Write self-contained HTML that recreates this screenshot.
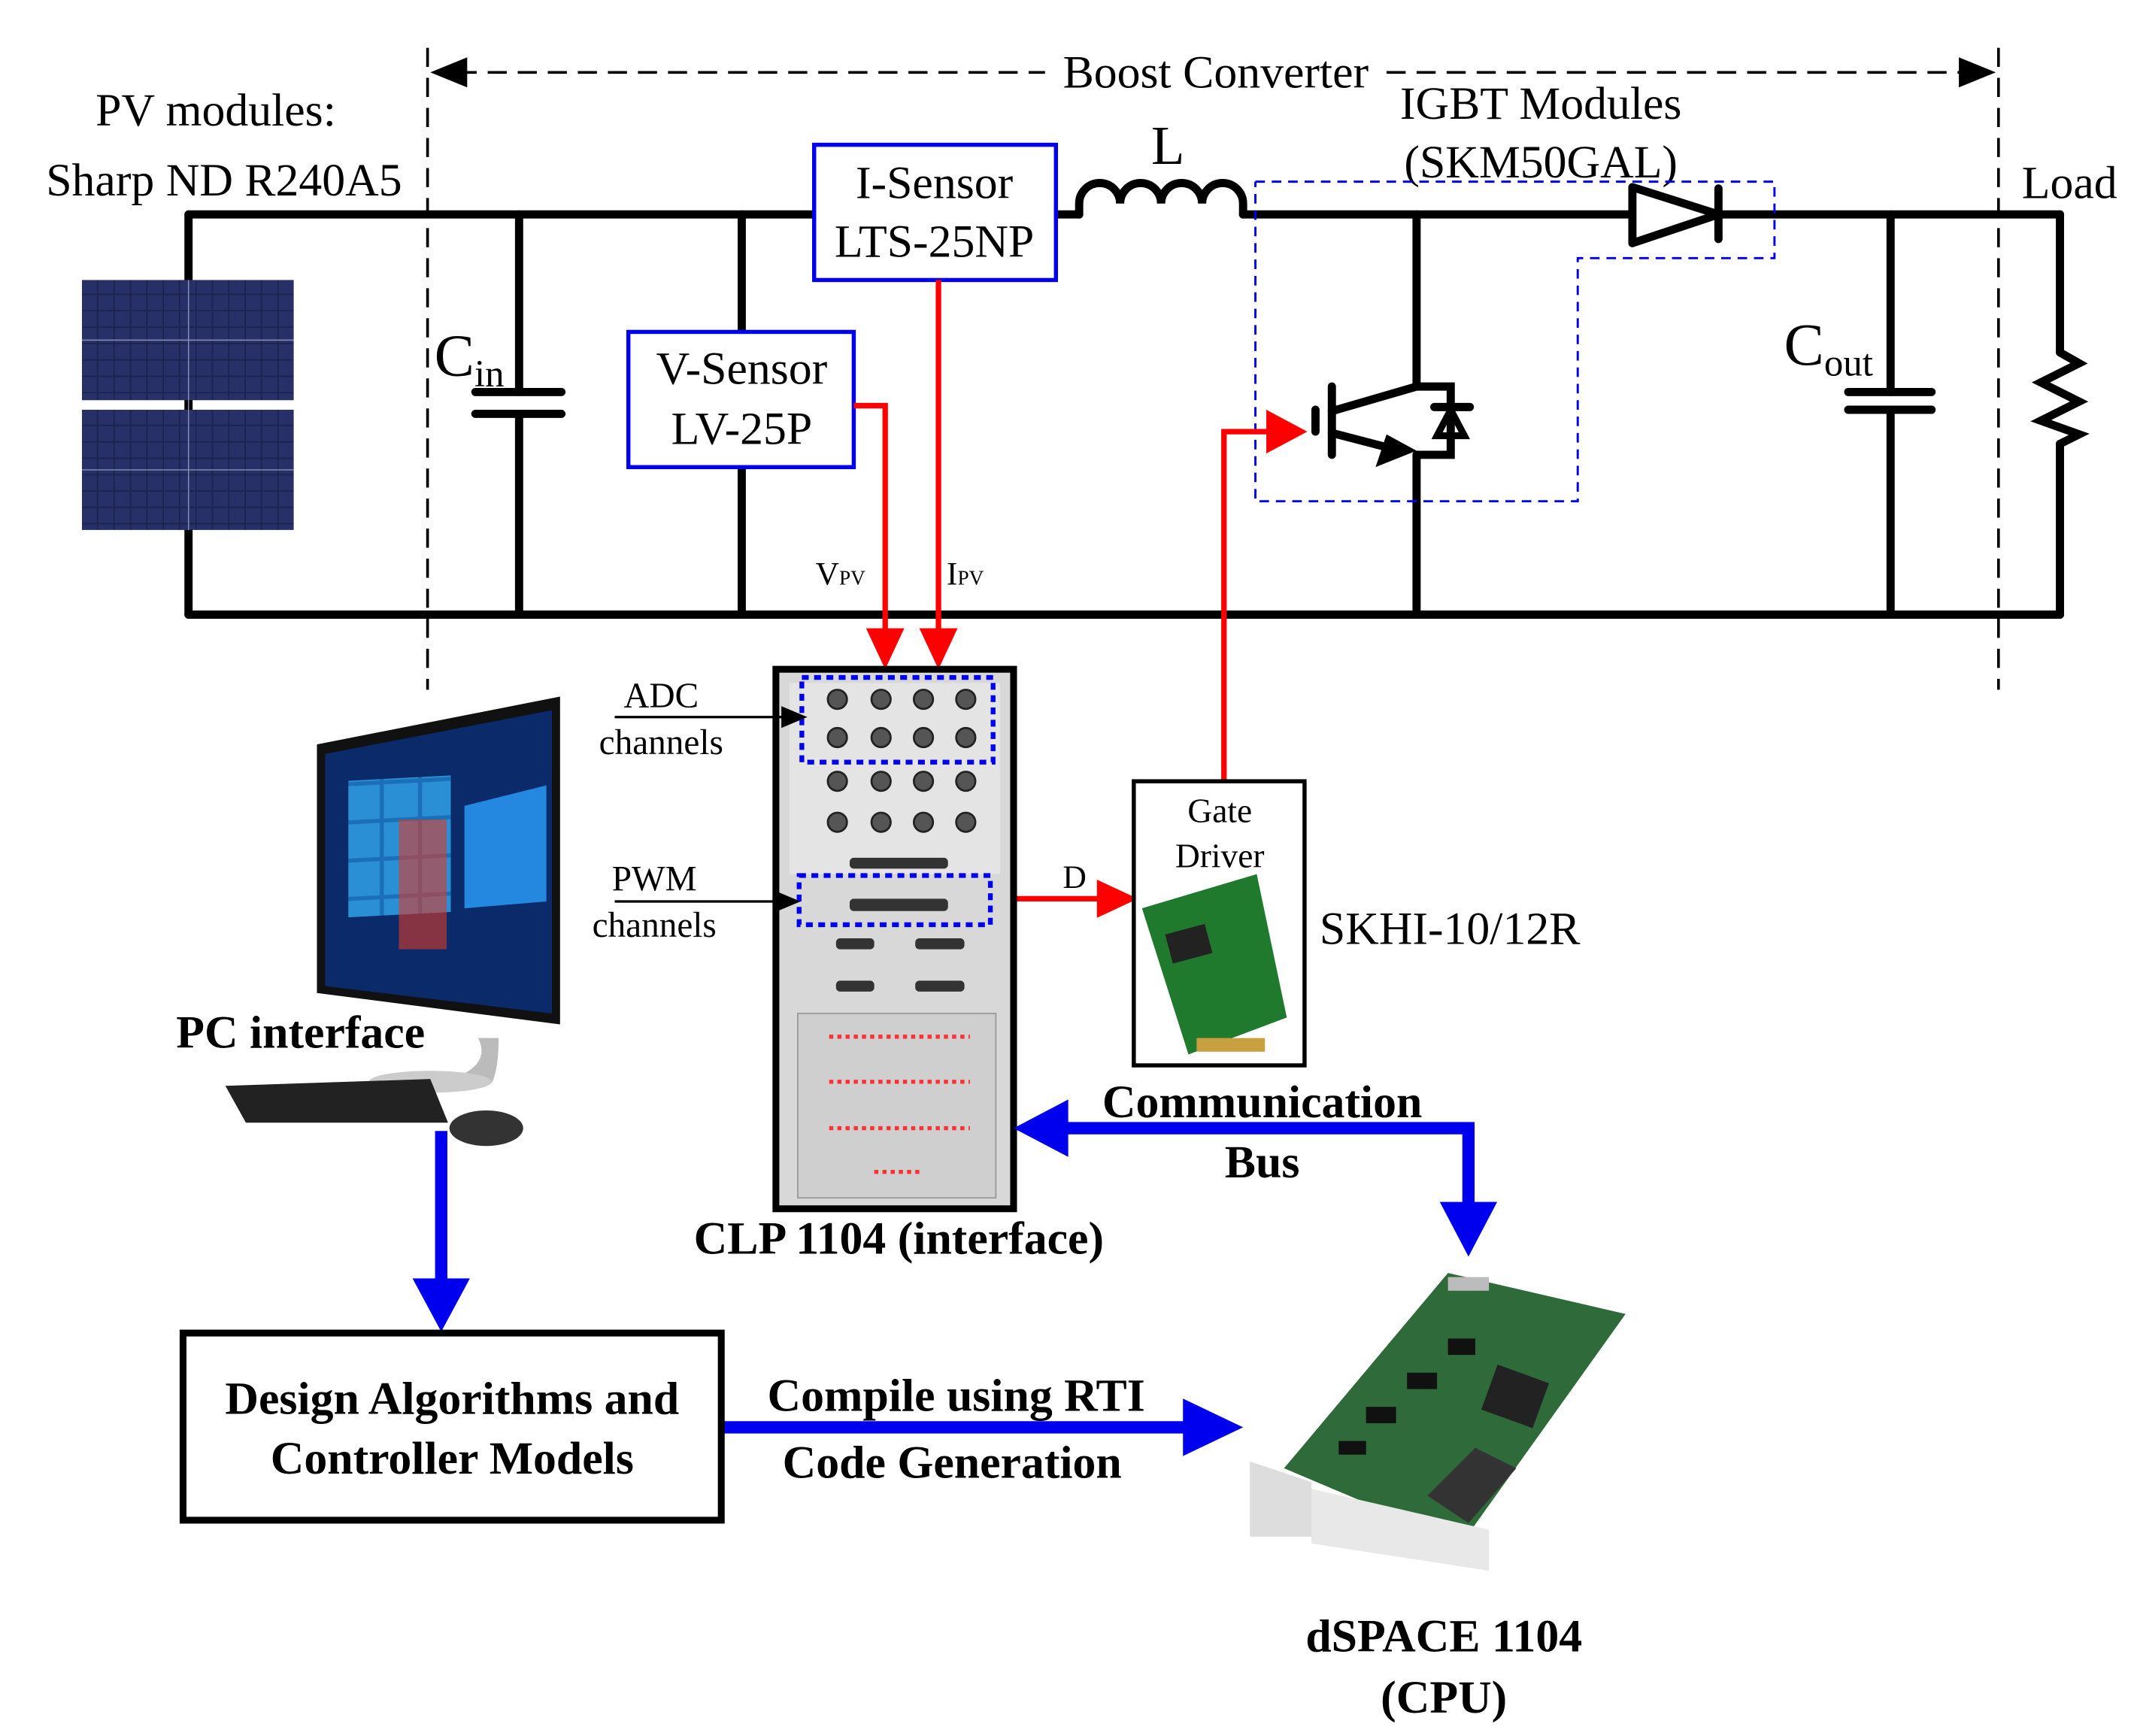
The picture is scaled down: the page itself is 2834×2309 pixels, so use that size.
<!DOCTYPE html>
<html><head><meta charset="utf-8"><style>
html,body{margin:0;padding:0;background:#fff;}
svg{display:block;}
text{font-family:"Liberation Serif",serif;}
</style></head><body>
<svg width="2834" height="2309" viewBox="0 0 1560 1271" xmlns="http://www.w3.org/2000/svg">
<defs>
<pattern id="cell" width="12" height="12" patternUnits="userSpaceOnUse">
<rect width="12" height="12" fill="#1c2350"/><rect x="0" y="0" width="11" height="11" fill="#283068"/>
</pattern>
<pattern id="tile" width="28" height="28" patternUnits="userSpaceOnUse">
<rect width="28" height="28" fill="#1a6fb8"/><rect x="1" y="1" width="25" height="25" fill="#2b8fd6"/>
</pattern>
</defs>
<rect width="1560" height="1271" fill="#fff"/>

<!-- texts top -->
<text x="158" y="92" font-size="34" text-anchor="middle">PV modules:</text>
<text x="164" y="143" font-size="34" text-anchor="middle">Sharp ND R240A5</text>
<text x="1515" y="145" font-size="34" text-anchor="middle">Load</text>
<text x="1128" y="87" font-size="34" text-anchor="middle">IGBT Modules</text>
<text x="1128" y="130" font-size="34" text-anchor="middle">(SKM50GAL)</text>

<!-- dashed boundaries -->
<g stroke="#000" stroke-width="2" stroke-dasharray="14,8" fill="none">
<line x1="313" y1="35" x2="313" y2="505"/>
<line x1="1463" y1="35" x2="1463" y2="505"/>
<line x1="335" y1="53" x2="765" y2="53"/>
<line x1="1015" y1="53" x2="1440" y2="53"/>
</g>
<polygon points="315,53 342,42 342,64" fill="#000"/>
<polygon points="1461,53 1434,42 1434,64" fill="#000"/>
<text x="890" y="64" font-size="34" text-anchor="middle">Boost Converter</text>

<!-- circuit wires -->
<g stroke="#000" stroke-width="6" fill="none" stroke-linecap="round">
<line x1="138" y1="157" x2="596" y2="157"/>
<line x1="773" y1="157" x2="790" y2="157"/>
<path d="M790,157 v-8 a15,15 0 0 1 30,0 a15,15 0 0 1 30,0 a15,15 0 0 1 30,0 a15,15 0 0 1 30,0 v8"/>
<line x1="910" y1="157" x2="1193" y2="157"/>
<line x1="1258" y1="157" x2="1508" y2="157"/>
<line x1="138" y1="450" x2="1508" y2="450"/>
<line x1="138" y1="157" x2="138" y2="450"/>
<line x1="380" y1="157" x2="380" y2="287"/>
<line x1="380" y1="303" x2="380" y2="450"/>
<line x1="348" y1="287" x2="411" y2="287"/>
<line x1="348" y1="303" x2="411" y2="303"/>
<line x1="543" y1="157" x2="543" y2="450"/>
<line x1="1037" y1="157" x2="1037" y2="283"/>
<line x1="1037" y1="333" x2="1037" y2="450"/>
<line x1="1384" y1="157" x2="1384" y2="287"/>
<line x1="1384" y1="300" x2="1384" y2="450"/>
<line x1="1353" y1="287" x2="1414" y2="287"/>
<line x1="1353" y1="300" x2="1414" y2="300"/>
<line x1="1508" y1="157" x2="1508" y2="258"/>
<polyline points="1508,258 1522,266 1494,280 1522,294 1494,308 1522,318 1508,325"/>
<line x1="1508" y1="325" x2="1508" y2="450"/>
<line x1="1258" y1="138" x2="1258" y2="175"/>
<!-- IGBT -->
<line x1="975" y1="283" x2="975" y2="333"/>
<line x1="963" y1="300" x2="963" y2="316"/>
<line x1="975" y1="301" x2="1037" y2="283"/>
<line x1="975" y1="317" x2="1025" y2="330"/>
<polyline points="1037,283 1062,283 1062,333 1037,333"/>
<line x1="1050" y1="298" x2="1076" y2="298"/>
</g>
<polygon points="1195,137 1258,157 1195,178" fill="none" stroke="#000" stroke-width="6" stroke-linejoin="round"/>
<polygon points="1062,300 1052,319 1072,319" fill="none" stroke="#000" stroke-width="5"/>
<polygon points="1037,330 1007,342 1015,318" fill="#000"/>
<text x="318" y="275" font-size="44">C<tspan font-size="28" dy="8">in</tspan></text>
<text x="1306" y="267" font-size="44">C<tspan font-size="28" dy="8">out</tspan></text>
<text x="855" y="120" font-size="40" text-anchor="middle">L</text>

<!-- IGBT dashed box -->
<polyline points="919,133 1299,133 1299,189 1155,189 1155,367 919,367 919,133" fill="none" stroke="#0000ee" stroke-width="1.6" stroke-dasharray="7,5"/>

<!-- PV panels -->
<rect x="60" y="205" width="155" height="88" fill="url(#cell)"/>
<rect x="60" y="300" width="155" height="88" fill="url(#cell)"/>
<g stroke="#8890b8" stroke-width="0.8">
<line x1="60" y1="249" x2="215" y2="249"/><line x1="60" y1="344" x2="215" y2="344"/>
<line x1="138" y1="205" x2="138" y2="388"/>
</g>

<!-- sensor boxes -->
<rect x="596" y="106" width="177" height="99" fill="#fff" stroke="#0000ee" stroke-width="3"/>
<text x="684" y="145" font-size="34" text-anchor="middle">I-Sensor</text>
<text x="684" y="188" font-size="34" text-anchor="middle">LTS-25NP</text>
<rect x="460" y="243" width="165" height="99" fill="#fff" stroke="#0000ee" stroke-width="3"/>
<text x="543" y="281" font-size="34" text-anchor="middle">V-Sensor</text>
<text x="543" y="325" font-size="34" text-anchor="middle">LV-25P</text>

<!-- red lines -->
<g stroke="#ff0000" stroke-width="4" fill="none">
<polyline points="625,297 648,297 648,465"/>
<line x1="687" y1="205" x2="687" y2="465"/>
<polyline points="896,572 896,316 930,316"/>
<line x1="725" y1="658" x2="808" y2="658"/>
</g>
<polygon points="634,460 662,460 648,490" fill="#f00"/>
<polygon points="673,460 701,460 687,490" fill="#f00"/>
<polygon points="927,300 927,332 957,316" fill="#f00"/>
<polygon points="803,644 803,672 833,658" fill="#f00"/>
<text x="597" y="428" font-size="24">V<tspan font-size="15">PV</tspan></text>
<text x="693" y="428" font-size="24">I<tspan font-size="15">PV</tspan></text>
<text x="778" y="650" font-size="24">D</text>

<!-- CLP -->
<rect x="568" y="490" width="174" height="395" fill="#d8d8d8" stroke="#000" stroke-width="5"/>
<rect x="578" y="500" width="154" height="140" fill="#e4e4e4"/>
<g fill="#555" stroke="#222" stroke-width="1.5">
<circle cx="613" cy="512" r="7"/><circle cx="645" cy="512" r="7"/><circle cx="676" cy="512" r="7"/><circle cx="707" cy="512" r="7"/>
<circle cx="613" cy="540" r="7"/><circle cx="645" cy="540" r="7"/><circle cx="676" cy="540" r="7"/><circle cx="707" cy="540" r="7"/>
<circle cx="613" cy="572" r="7"/><circle cx="645" cy="572" r="7"/><circle cx="676" cy="572" r="7"/><circle cx="707" cy="572" r="7"/>
<circle cx="613" cy="602" r="7"/><circle cx="645" cy="602" r="7"/><circle cx="676" cy="602" r="7"/><circle cx="707" cy="602" r="7"/>
</g>
<g fill="#333">
<rect x="622" y="628" width="72" height="8" rx="3"/>
<rect x="622" y="658" width="72" height="9" rx="3"/>
<rect x="612" y="687" width="28" height="8" rx="3"/><rect x="670" y="687" width="36" height="8" rx="3"/>
<rect x="612" y="718" width="28" height="8" rx="3"/><rect x="670" y="718" width="36" height="8" rx="3"/>
</g>
<rect x="584" y="742" width="145" height="135" fill="#cfcfcf" stroke="#999"/>
<g stroke="#ff3030" stroke-width="3" stroke-dasharray="3,3">
<line x1="607" y1="759" x2="710" y2="759"/>
<line x1="607" y1="792" x2="710" y2="792"/>
<line x1="607" y1="826" x2="710" y2="826"/>
<line x1="640" y1="858" x2="676" y2="858"/>
</g>
<g fill="none" stroke="#0000ee" stroke-width="3.5" stroke-dasharray="5,4">
<rect x="587" y="496" width="140" height="62"/>
<rect x="585" y="641" width="140" height="36"/>
</g>
<text x="484" y="518" font-size="26" text-anchor="middle">ADC</text>
<text x="484" y="552" font-size="26" text-anchor="middle">channels</text>
<text x="479" y="652" font-size="26" text-anchor="middle">PWM</text>
<text x="479" y="686" font-size="26" text-anchor="middle">channels</text>
<g stroke="#000" stroke-width="1.8"><line x1="450" y1="525" x2="575" y2="525"/><line x1="450" y1="660" x2="570" y2="660"/></g>
<polygon points="591,525 572,517 572,533" fill="#000"/>
<polygon points="586,660 567,652 567,668" fill="#000"/>
<text x="658" y="918" font-size="34" font-weight="bold" text-anchor="middle">CLP 1104 (interface)</text>

<!-- gate driver -->
<rect x="830" y="572" width="125" height="208" fill="#fff" stroke="#000" stroke-width="3"/>
<text x="893" y="602" font-size="25" text-anchor="middle">Gate</text>
<text x="893" y="635" font-size="25" text-anchor="middle">Driver</text>
<polygon points="836,665 920,640 942,745 870,772" fill="#1f7a2e"/>
<rect x="855" y="680" width="30" height="22" fill="#222" transform="rotate(-15 870 690)"/>
<rect x="876" y="760" width="50" height="10" fill="#c9a040"/>
<text x="966" y="691" font-size="34">SKHI-10/12R</text>

<!-- PC -->
<polygon points="232,545 410,510 410,750 232,727" fill="#111"/>
<polygon points="238,552 404,520 404,742 238,722" fill="#0a2a6a"/>
<rect x="255" y="585" width="75" height="100" fill="url(#tile)" transform="skewY(-3)"/>
<rect x="292" y="600" width="35" height="95" fill="#d83b2a" opacity="0.6"/>
<polygon points="340,590 400,575 400,660 340,665" fill="#2aa0ff" opacity="0.8"/>
<path d="M350,760 q10,20 -20,30 l30,3 q5,-10 5,-33 z" fill="#bbb"/>
<ellipse cx="315" cy="792" rx="45" ry="8" fill="#ccc"/>
<polygon points="165,795 315,790 328,822 180,822" fill="#222"/>
<ellipse cx="356" cy="826" rx="27" ry="13" fill="#333"/>
<text x="220" y="767" font-size="34" font-weight="bold" text-anchor="middle">PC interface</text>

<!-- blue arrows -->
<g stroke="#0000ee" stroke-width="9" fill="none">
<line x1="323" y1="828" x2="323" y2="940"/>
<polyline points="775,826 1075,826 1075,885"/>
<line x1="525" y1="1045" x2="870" y2="1045"/>
</g>
<polygon points="302,936 344,936 323,975" fill="#0000ee"/>
<polygon points="1054,880 1096,880 1075,920" fill="#0000ee"/>
<polygon points="742,826 782,805 782,847" fill="#0000ee"/>
<polygon points="866,1024 866,1066 910,1045" fill="#0000ee"/>
<text x="924" y="818" font-size="34" font-weight="bold" text-anchor="middle">Communication</text>
<text x="924" y="862" font-size="34" font-weight="bold" text-anchor="middle">Bus</text>

<!-- design box -->
<rect x="134" y="976" width="394" height="137" fill="#fff" stroke="#000" stroke-width="5"/>
<text x="331" y="1035" font-size="34" font-weight="bold" text-anchor="middle">Design Algorithms and</text>
<text x="331" y="1079" font-size="34" font-weight="bold" text-anchor="middle">Controller Models</text>
<text x="700" y="1033" font-size="34" font-weight="bold" text-anchor="middle">Compile using RTI</text>
<text x="697" y="1082" font-size="34" font-weight="bold" text-anchor="middle">Code Generation</text>

<!-- dSPACE -->
<polygon points="940,1075 1060,932 1190,962 1070,1130" fill="#2f6a3a"/>
<polygon points="915,1070 960,1085 960,1125 915,1125" fill="#ddd"/>
<polygon points="960,1090 1090,1120 1090,1150 960,1130" fill="#e8e8e8"/>
<polygon points="1045,1095 1080,1060 1110,1075 1075,1115" fill="#333"/>
<rect x="1090" y="1005" width="40" height="35" fill="#222" transform="rotate(20 1110 1020)"/>
<g fill="#111"><rect x="1000" y="1030" width="22" height="12"/><rect x="1030" y="1005" width="22" height="12"/><rect x="1060" y="980" width="20" height="12"/><rect x="980" y="1055" width="20" height="10"/></g>
<rect x="1060" y="935" width="30" height="10" fill="#bbb"/>
<text x="1057" y="1209" font-size="34" font-weight="bold" text-anchor="middle">dSPACE 1104</text>
<text x="1057" y="1254" font-size="34" font-weight="bold" text-anchor="middle">(CPU)</text>
</svg>
</body></html>
